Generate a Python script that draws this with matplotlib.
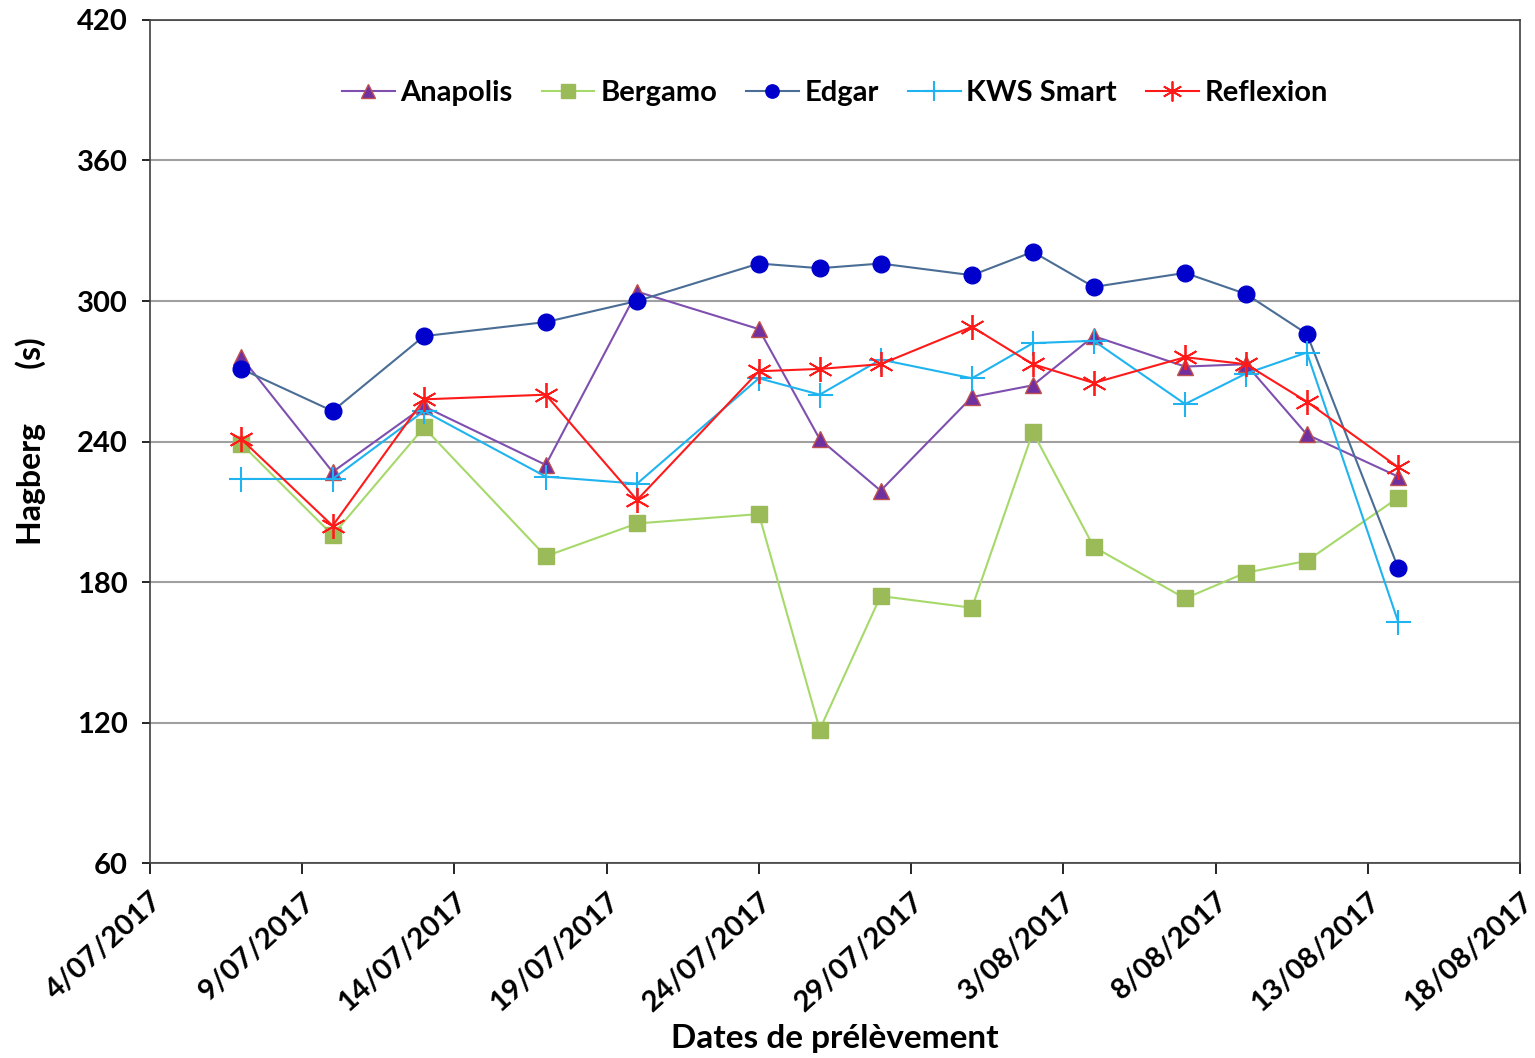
import matplotlib.pyplot as plt
import numpy as np
from datetime import date

plt.rcParams['font.family'] = ['Lato', 'DejaVu Sans']

# dates de prélèvement
dates = [date(2017, 7, 7), date(2017, 7, 10), date(2017, 7, 13), date(2017, 7, 17),
         date(2017, 7, 20), date(2017, 7, 24), date(2017, 7, 26), date(2017, 7, 28),
         date(2017, 7, 31), date(2017, 8, 2), date(2017, 8, 4), date(2017, 8, 7),
         date(2017, 8, 9), date(2017, 8, 11), date(2017, 8, 14)]

anapolis = [276, 227, 255, 230, 304, 288, 241, 219, 259, 264, 285, 272, 273, 243, 225]
bergamo = [239, 200, 246, 191, 205, 209, 117, 174, 169, 244, 195, 173, 184, 189, 216]
edgar = [271, 253, 285, 291, 300, 316, 314, 316, 311, 321, 306, 312, 303, 286, 186]
kws_smart = [224, 224, 253, 225, 222, 267, 260, 275, 267, 282, 283, 256, 269, 278, 163]
reflexion = [241, 204, 258, 260, 215, 270, 271, 273, 289, 273, 265, 276, 273, 257, 229]

xticks = [date(2017, 7, 4), date(2017, 7, 9), date(2017, 7, 14), date(2017, 7, 19),
          date(2017, 7, 24), date(2017, 7, 29), date(2017, 8, 3), date(2017, 8, 8),
          date(2017, 8, 13), date(2017, 8, 18)]
xlabels = ['4/07/2017', '9/07/2017', '14/07/2017', '19/07/2017', '24/07/2017',
           '29/07/2017', '3/08/2017', '8/08/2017', '13/08/2017', '18/08/2017']
yticks = [60, 120, 180, 240, 300, 360, 420]

fig = plt.figure(figsize=(15.35, 10.58), dpi=100)
ax = fig.add_axes([0.0977, 0.1843, 0.8925, 0.7968])

ax.plot(dates, anapolis, color='#7f4fb0', lw=1.5, marker='^', ms=12,
        mfc='#7030a0', mec='#c0504d', mew=1, label='Anapolis')
ax.plot(dates, bergamo, color='#a6d96a', lw=1.5, marker='s', ms=12,
        mfc='#9bbb59', mec='#9bbb59', label='Bergamo')
ax.plot(dates, edgar, color='#4a6d95', lw=1.5, marker='o', ms=12,
        mfc='#0000cc', mec='#0000cc', label='Edgar')
ax.plot(dates, kws_smart, color='#1fb4ef', lw=1.5, marker='+', ms=18,
        mew=1.5, label='KWS Smart')
ax.plot(dates, reflexion, color='#ff1a1a', lw=1.5, marker=(6, 2, 0), ms=18,
        mew=1.3, label='Reflexion')

ax.set_xlim(date(2017, 7, 4), date(2017, 8, 18))
ax.set_ylim(60, 420)
ax.set_xticks(xticks)
ax.set_xticklabels(xlabels, rotation=42, ha='right', va='top', rotation_mode='anchor',
                   fontsize=21, fontweight='bold')
ax.set_yticks(yticks)
ax.set_yticklabels([str(v) for v in yticks], fontsize=21, fontweight='bold')
ax.tick_params(axis='x', length=8, width=1.2, pad=10)
ax.tick_params(axis='y', length=6, width=1.2, pad=10)
ax.yaxis.grid(True, color='#a0a0a0', lw=1.5)
ax.set_axisbelow(True)
for s in ax.spines.values():
    s.set_color('#404040')
    s.set_linewidth(1.2)

ax.set_xlabel('Dates de prélèvement', fontsize=24, fontweight='bold', labelpad=6)
ax.set_ylabel('Hagberg       (s)', fontsize=23, fontweight='bold', labelpad=22)

ax.legend(loc='upper center', bbox_to_anchor=(0.5, 0.96), ncol=5, frameon=False,
          prop={'weight': 'bold', 'size': 21}, handlelength=1.8,
          handletextpad=0.2, columnspacing=1.0, markerscale=0.8)

fig.savefig('out.png', dpi=100)
